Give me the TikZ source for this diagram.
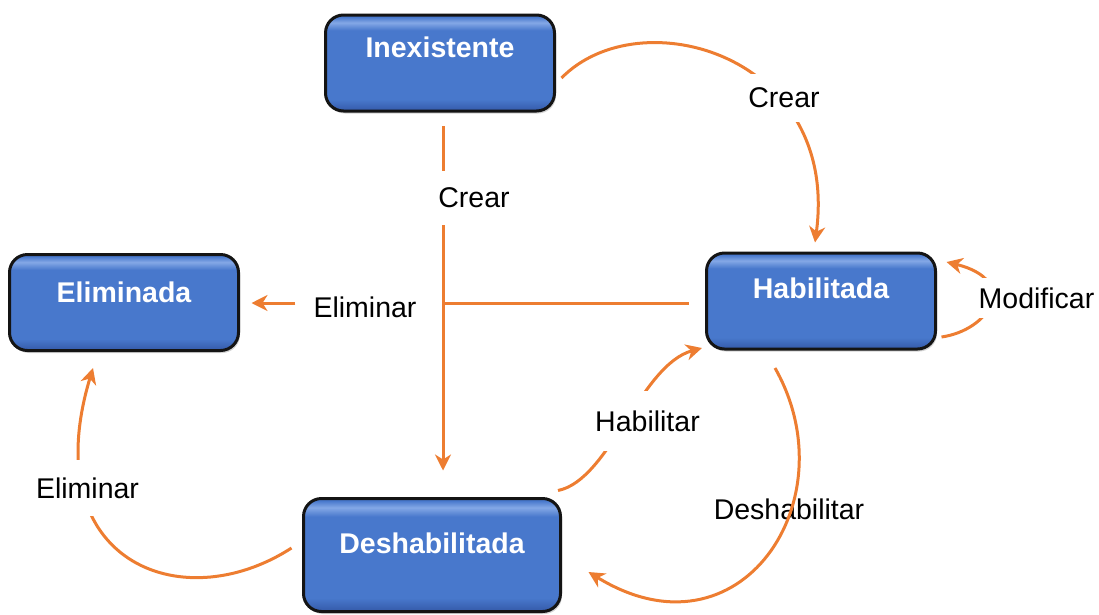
\documentclass[tikz,border=0pt]{standalone}
\usepackage{fontspec}
\setmainfont{Liberation Sans}
\usetikzlibrary{arrows.meta,shadows}
\definecolor{conn}{HTML}{ED7D31}
\definecolor{boxmid}{HTML}{4878CC}
\definecolor{boxtop}{HTML}{84A8E6}
\definecolor{boxbot}{HTML}{3459A8}
\definecolor{boxline}{HTML}{141414}
\pgfdeclareverticalshading{boxshade}{100bp}{color(0bp)=(boxbot); color(25bp)=(boxbot); color(31bp)=(boxmid); color(67bp)=(boxmid); color(71bp)=(boxtop); color(74bp)=(boxmid); color(100bp)=(boxmid)}
\begin{document}
\begin{tikzpicture}[x=1pt,y=-1pt,
  statebox/.style={rectangle, rounded corners=18pt, draw=boxline, line width=3pt,
    shade, shading=boxshade,
    minimum width=229pt, minimum height=96pt, inner sep=0pt,
    drop shadow={opacity=0.35, shadow xshift=1.5pt, shadow yshift=-2.5pt}},
  boxtext/.style={text=white, font=\fontsize{28.5pt}{34pt}\selectfont\bfseries},
  lab/.style={font=\fontsize{28.5pt}{34pt}\selectfont, text=black},
  cut/.style={fill=white, inner xsep=6pt, inner ysep=16pt},
  flow/.style={draw=conn, line width=3pt},
  arr/.style={flow, -{Stealth[length=16pt,width=16pt,inset=5pt]}},
]
\useasboundingbox (0,0) rectangle (1099,614);

% state boxes
\node[statebox, label={[boxtext,yshift=16pt]center:Inexistente}] (ine) at (440,63) {};
\node[statebox, label={[boxtext,yshift=13pt]center:Habilitada}] (hab) at (821,301) {};
\node[statebox, label={[boxtext,yshift=10.5pt]center:Eliminada}] (eli) at (124,302.5) {};
\node[statebox, minimum width=257pt, minimum height=113pt,
      label={[boxtext,yshift=12pt]center:Deshabilitada}] (des) at (432,555) {};

% labels drawn before their connectors
\node[lab, fill=white, inner xsep=18pt, inner ysep=4pt] (lelim1) at (365,307.5) {Eliminar};
\node[lab] (ldes) at (789,509) {Deshabilitar};
\coordinate (jn) at (443,303);

% connectors
\draw[arr] ([shift={(3,13.5)}]ine.south) -- ([shift={(11,-26.5)}]des.north);
\draw[flow] ([shift={(-16.5,2)}]hab.west) -- (jn);
\draw[arr, shorten >=11.5pt] (lelim1.west |- jn) -- (eli.east |- jn);
\draw[arr] ([shift={(5.5,15)}]ine.east) .. controls (640,-2) and (840,55) .. ([shift={(-6,-9)}]hab.north);
\draw[arr] ([shift={(4.5,36)}]hab.east) .. controls (990,330) and (1020,280) .. ([shift={(9.5,-39)}]hab.east);
\draw[arr] ([shift={(126,-6.5)}]des.north) .. controls (610,480) and (640,365) .. ([shift={(-3,47)}]hab.west);
\draw[arr] ([shift={(-46,17.5)}]hab.south) .. controls (850,500) and (740,665) .. ([shift={(26.5,17)}]des.east);
\draw[arr] ([shift={(-10.5,-7)}]des.west) .. controls (180,620) and (35,560) .. ([shift={(-31,16)}]eli.south);

% labels that interrupt their connectors
\node[lab, cut, inner ysep=17pt] (lcrear1) at (474,198) {Crear};
\node[lab, cut, inner ysep=14pt] (lcrear2) at (784,98) {Crear};
\node[lab, cut, inner ysep=10pt] (lmod) at (1036.5,298) {Modificar};
\node[lab, cut, inner ysep=20pt] (lhab) at (647.5,421) {Habilitar};
\node[lab, cut, inner ysep=18pt] (lelim2) at (87.5,488) {Eliminar};
\end{tikzpicture}
\end{document}
